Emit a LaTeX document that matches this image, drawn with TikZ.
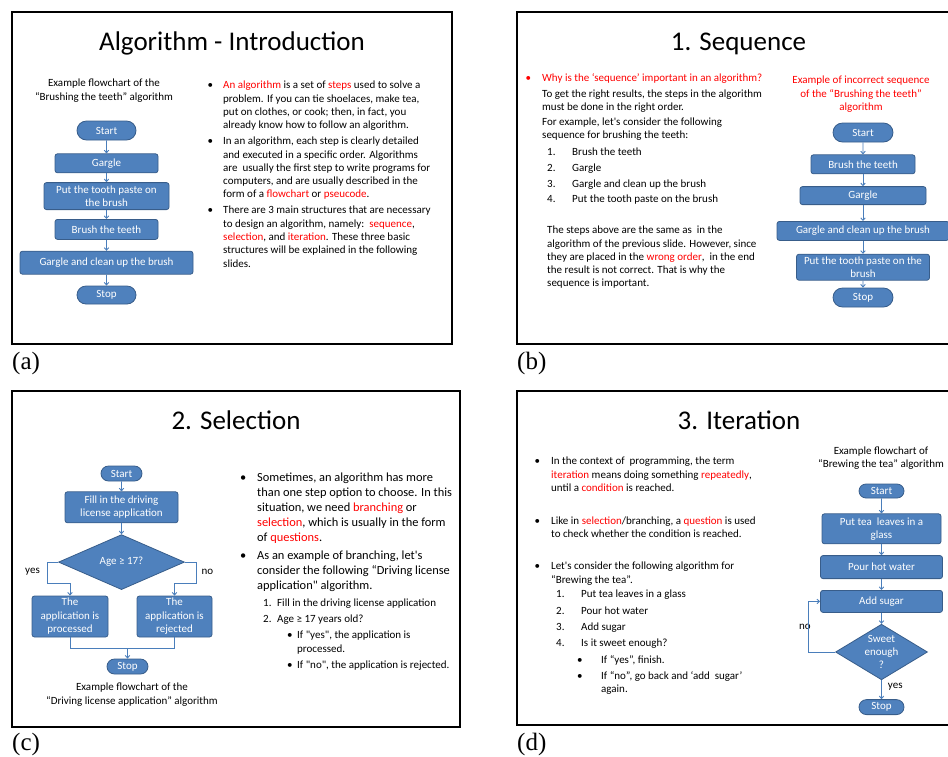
\documentclass[tikz,border=0pt]{standalone}
\usepackage{fontspec}
\setmainfont{Carlito}[Ligatures=TeXOff]
\newfontfamily\tagfont{Liberation Serif}
\usepackage{tikz}
\usetikzlibrary{shapes,shapes.misc,shapes.geometric,arrows,arrows.meta,positioning,calc}

\definecolor{boxblue}{HTML}{4F81BD}
\definecolor{boxline}{HTML}{385D8A}
\definecolor{flowblue}{HTML}{4A7EBB}
\definecolor{slidered}{HTML}{FF0000}
\newcommand{\hlt}[1]{\textcolor{slidered}{#1}}
\newcommand{\fsz}[2]{\fontsize{#1}{#2}\selectfont}

\begin{document}
\begin{tikzpicture}[x=1pt, y=-1pt, >={Straight Barb[length=2.5pt,width=4.5pt]},
    frame/.style={line width=2.4pt},
    title/.style={font=\fsz{27}{32}, anchor=base, inner sep=0},
    txt/.style={font=\fsz{11}{13.3}, align=left, anchor=north west, inner sep=0},
    capt/.style={font=\fsz{11}{14}, align=center, anchor=north, inner sep=0},
    proc/.style={rectangle, rounded corners=2.5pt, draw=boxline, fill=boxblue, line width=0.8pt,
      text=white, font=\fsz{11}{13.3}, align=center, inner sep=0},
    term/.style={proc, rounded rectangle, sharp corners},
    decide/.style={proc, diamond, sharp corners},
    flow/.style={->, draw=flowblue, line width=0.9pt},
    lbl/.style={font=\fsz{11}{13.3}, inner sep=0},
    tag/.style={font=\tagfont\fsz{25}{30}, anchor=base west, inner sep=0}]
    \useasboundingbox (0,0) rectangle (948,756);

    % Frames
    \draw[frame] (12,12) rectangle (452,344);
    \draw[frame] (948,12) -- (517,12) -- (517,344) -- (948,344);
    \draw[frame] (12,391) rectangle (460,727);
    \draw[frame] (948,391) -- (517,391) -- (517,725) -- (948,725);

    \node[tag] (tag_a) at (12,369) {(a)};
    \node[tag] (tag_b) at (517,369) {(b)};
    \node[tag] (tag_c) at (12,750) {(c)};
    \node[tag] (tag_d) at (517,750) {(d)};

    % Slide (a)
    \node[title] (a_title) at (232,50) {Algorithm - Introduction};
    \node[capt] (a_cap) at (104,79) {Example flowchart of the\\“Brushing the teeth” algorithm};
    \node[txt] (a_text) at (223,81) {%
      \llap{•\hspace{10pt}}\hlt{An algorithm} is a set of \hlt{steps} used to solve a\\
      problem. If you can tie shoelaces, make tea,\\
      put on clothes, or cook; then, in fact, you\\
      already know how to follow an algorithm.\\[2.7pt]
      \llap{•\hspace{10pt}}In an algorithm, each step is clearly detailed\\
      and executed in a specific order. Algorithms\\
      are\ \ usually the first step to write programs for\\
      computers, and are usually described in the\\
      form of a \hlt{flowchart} or \hlt{pseucode}.\\[2.7pt]
      \llap{•\hspace{10pt}}There are 3 main structures that are necessary\\
      to design an algorithm, namely:\ \ \hlt{sequence},\\
      \hlt{selection}, and \hlt{iteration}. These three basic\\
      structures will be explained in the following\\
      slides.};

    \node[term, minimum width=59pt, minimum height=19pt] (a_start) at (106.5,130.5) {Start};
    \node[proc, minimum width=103pt, minimum height=19pt, below=13pt of a_start] (a_gargle) {Gargle};
    \node[proc, minimum width=125pt, minimum height=27pt, below=9pt of a_gargle] (a_paste) {Put the tooth paste on\\the brush};
    \node[proc, minimum width=103pt, minimum height=20pt, below=9pt of a_paste] (a_brush) {Brush the teeth};
    \node[proc, minimum width=173pt, minimum height=23pt, below=11pt of a_brush] (a_clean) {Gargle and clean up the brush};
    \node[term, minimum width=59pt, minimum height=18pt, below=11pt of a_clean] (a_stop) {Stop};

    \draw[flow] (a_start) -- (a_gargle);
    \draw[flow] (a_gargle) -- (a_paste);
    \draw[flow] (a_paste) -- (a_brush);
    \draw[flow] (a_brush) -- (a_clean);
    \draw[flow] (a_clean) -- (a_stop);

    % Slide (b)
    \node[title] (b_title) at (738.5,50) {1. Sequence};
    \node[txt] (b_text) at (542,73) {%
      \llap{\hlt{•}\hspace{11pt}}\hlt{Why is the ‘sequence’ important in an algorithm?}\\[2.7pt]
      To get the right results, the steps in the algorithm\\
      must be done in the right order.\\[1.7pt]
      For example, let's consider the following\\
      sequence for brushing the teeth:};
    \node[txt, font=\fsz{11}{15.7}] (b_list) at (547,148) {%
      \makebox[25pt][l]{1.}Brush the teeth\\
      \makebox[25pt][l]{2.}Gargle\\
      \makebox[25pt][l]{3.}Gargle and clean up the brush\\
      \makebox[25pt][l]{4.}Put the tooth paste on the brush};
    \node[txt, font=\fsz{11}{13.25}] (b_para) at (547,226) {%
      The steps above are the same as\ \ in the\\
      algorithm of the previous slide. However, since\\
      they are placed in the \hlt{wrong order},\ \ in the end\\
      the result is not correct. That is why the\\
      sequence is important.};
    \node[capt, font=\fsz{11}{13.3}, text=slidered] (b_cap) at (861,76) {Example of incorrect sequence\\of the “Brushing the teeth”\\algorithm};

    \node[term, minimum width=60pt, minimum height=19pt] (b_start) at (863,132.5) {Start};
    \node[proc, minimum width=104pt, minimum height=19pt, below=12pt of b_start] (b_brush) {Brush the teeth};
    \node[proc, minimum width=126pt, minimum height=18pt, below=12pt of b_brush] (b_gargle) {Gargle};
    \node[proc, minimum width=172pt, minimum height=19pt, below=16pt of b_gargle] (b_clean) {Gargle and clean up the brush};
    \node[proc, minimum width=133pt, minimum height=26pt, below=13pt of b_clean] (b_paste) {Put the tooth paste on the\\brush};
    \node[term, minimum width=60pt, minimum height=19pt, below=7pt of b_paste] (b_stop) {Stop};

    \draw[flow] (b_start) -- (b_brush);
    \draw[flow] (b_brush) -- (b_gargle);
    \draw[flow] (b_gargle) -- (b_clean);
    \draw[flow] (b_clean) -- (b_paste);
    \draw[flow] (b_paste) -- (b_stop);

    % Slide (c)
    \node[title] (c_title) at (236,429) {2. Selection};
    \node[term, minimum width=41pt, minimum height=15pt] (c_start) at (121.5,473.5) {Start};
    \node[proc, minimum width=113pt, minimum height=31pt, below=10pt of c_start] (c_fill) {Fill in the driving\\license application};
    \node[decide, minimum width=126pt, minimum height=55pt, below=11pt of c_fill] (c_age) {Age ≥ 17?};
    \node[proc, minimum width=76pt, minimum height=41pt, font=\fsz{11}{13.5}] (c_proc) at (70,616.5) {The\\application is\\processed};
    \node[proc, minimum width=75pt, minimum height=41pt, font=\fsz{11}{13.5}] (c_rej) at (174.5,616.5) {The\\application is\\rejected};
    \node[term, minimum width=41pt, minimum height=15pt] (c_stop) at (127.5,666.5) {Stop};
    \node[lbl] (c_yes) at (32.5,572) {yes};
    \node[lbl] (c_no) at (207.5,572) {no};
    \coordinate (c_join) at ([yshift=-11pt]c_proc.south);

    \draw[flow] (c_start) -- (c_fill);
    \draw[flow] (c_fill) -- (c_age);
    \draw[flow] (c_age.west) -- ++(-11,0) |- ([yshift=12pt]c_proc.north) -- (c_proc.north);
    \draw[flow] (c_age.east) -- ++(12,0) |- ([yshift=12pt]c_rej.north) -- (c_rej.north);
    \draw[flow, -] (c_proc.south) -- (c_join) -| (c_rej.south);
    \draw[flow] (c_join -| c_stop.north) -- (c_stop.north);

    \node[capt] (c_cap) at (132,683) {Example flowchart of the\\“Driving license application” algorithm};
    \node[txt, font=\fsz{12.4}{15}] (c_text) at (257,473) {%
      \llap{•\hspace{11pt}}Sometimes, an algorithm has more\\
      than one step option to choose. In this\\
      situation, we need \hlt{branching} or\\
      \hlt{selection}, which is usually in the form\\
      of \hlt{questions}.\\[3pt]
      \llap{•\hspace{11pt}}As an example of branching, let's\\
      consider the following “Driving license\\
      application" algorithm.};
    \node[txt] (c_list) at (263,599) {%
      \makebox[14pt][l]{1.}Fill in the driving license application\\[2.7pt]
      \makebox[14pt][l]{2.}Age ≥ 17 years old?\\[2.7pt]
      \hspace*{24pt}\makebox[10pt][l]{•}If "yes", the application is\\
      \hspace*{34pt}processed.\\[2.7pt]
      \hspace*{24pt}\makebox[10pt][l]{•}If "no", the application is rejected.};

    % Slide (d)
    \node[title] (d_title) at (739,429) {3. Iteration};
    \node[txt] (d_text) at (551,457) {%
      \llap{•\hspace{11pt}}In the context of\ \ programming, the term\\
      \hlt{iteration} means doing something \hlt{repeatedly},\\
      until a \hlt{condition} is reached.\\[19.7pt]
      \llap{•\hspace{11pt}}Like in \hlt{selection}/branching, a \hlt{question} is used\\
      to check whether the condition is reached.\\[18.7pt]
      \llap{•\hspace{11pt}}Let's consider the following algorithm for\\
      “Brewing the tea”.};
    \node[txt] (d_list) at (556,590) {%
      \makebox[25pt][l]{1.}Put tea leaves in a glass\\[3pt]
      \makebox[25pt][l]{2.}Pour hot water\\[3pt]
      \makebox[25pt][l]{3.}Add sugar\\[3pt]
      \makebox[25pt][l]{4.}Is it sweet enough?\\[3pt]
      \hspace*{21pt}\makebox[24pt][l]{•}If “yes”, finish.\\[3pt]
      \hspace*{21pt}\makebox[24pt][l]{•}If “no”, go back and ‘add\ \ sugar’\\
      \hspace*{45pt}again.};
    \node[capt, font=\fsz{11}{13}] (d_cap) at (881,447) {Example flowchart of\\“Brewing the tea” algorithm};

    \node[term, minimum width=45pt, minimum height=14pt] (d_start) at (881.5,491) {Start};
    \node[proc, minimum width=119pt, minimum height=30pt, below=15pt of d_start] (d_leaves) {Put tea\ \ leaves in a\\glass};
    \node[proc, minimum width=122pt, minimum height=23pt, below=11pt of d_leaves] (d_water) {Pour hot water};
    \node[proc, minimum width=122pt, minimum height=22pt, below=11pt of d_water] (d_sugar) {Add sugar};
    \node[decide, minimum width=92pt, minimum height=52pt, inner sep=-3pt, below=11pt of d_sugar] (d_sweet) {Sweet\\enough\\?};
    \node[term, minimum width=45pt, minimum height=15pt, below=19pt of d_sweet] (d_stop) {Stop};
    \node[lbl] (d_no) at (805,627) {no};

    \draw[flow] (d_start) -- (d_leaves);
    \draw[flow] (d_leaves) -- (d_water);
    \draw[flow] (d_water) -- (d_sugar);
    \draw[flow] (d_sugar) -- (d_sweet);
    \draw[flow] (d_sweet) -- node[lbl, right=6pt, pos=0.35] (d_yes) {yes} (d_stop);
    \draw[flow] (d_sweet.west) -- ++(-27,0) |- (d_sugar.west);
\end{tikzpicture}
\end{document}
